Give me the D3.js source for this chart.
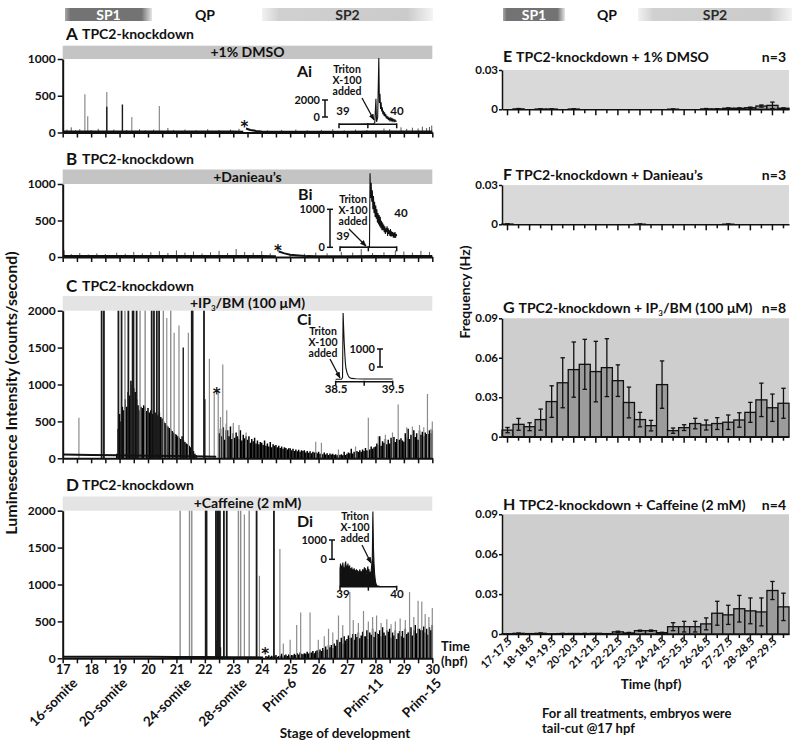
<!DOCTYPE html>
<html><head><meta charset="utf-8">
<script src="https://cdn.jsdelivr.net/npm/d3@7"></script>
<style>
body{margin:0;background:#fff}
svg{display:block}
text{font-family:Lato,'Open Sans',sans-serif;font-weight:bold;fill:#111}
</style>
</head><body>
<svg id="c" width="800" height="749"></svg>
<script>
// ---------------- DATA ----------------
const phases = ["SP1", "QP", "SP2"];
const hourTicks = d3.range(17, 30.001, 0.5);
const stageLabels = ["16-somite", "20-somite", "24-somite", "28-somite", "Prim-6", "Prim-11", "Prim-15"];
const stageHours = [17.55, 19.3, 21.55, 23.5, 25.25, 28.3, 30.35];

// Panel A (TPC2-knockdown + 1% DMSO) luminescence trace [hpf, counts/s]
const aBase1 = [[17,12],[18,14],[19,12],[20,13],[21,12],[22,12],[23,12],[23.35,10]];
const aBase2 = [[23.45,55],[23.6,35],[23.8,22],[24.0,15],[25,10],[26,10],[27,10],[28,12],[29,14],[30,15]];
const aSmall = [[17.15,40],[17.3,70],[17.45,30],[17.6,45],[18.0,35],[18.25,50],[18.8,40],[19.25,35],[19.7,45],[19.9,30],[20.2,40],[20.7,60],[20.9,35],[21.3,40],[21.7,30],[22.1,45],[22.5,35],[22.9,40],[23.2,50],[24.2,30],[24.7,35],[25.2,40],[25.6,30],[26.1,35],[26.5,45],[26.9,30],[27.3,40],[27.7,35],[28.3,55],[28.5,45],[28.9,70],[29.1,50],[29.3,65],[29.5,55],[29.65,80],[29.8,60],[29.9,75],[29.98,95]];
const aGrey = [[17.78,520],[17.88,220],[18.55,550],[19.43,210],[20.4,360]];
const aDark = [[18.55,350],[19.1,380]];
const aInset = [[39.0,0],[39.3,0],[39.6,50],[39.62,200],[39.64,3000],[39.65,300],[39.67,800],[39.69,7800],[39.70,2500],[39.71,3600],[39.72,1800],[39.73,2600],[39.74,1500],[39.75,2000],[39.76,1200],[39.77,1600],[39.78,1000],[39.79,1400],[39.8,900],[39.81,1200],[39.82,700],[39.83,1000],[39.84,600],[39.85,900],[39.86,500],[39.87,800],[39.88,500],[39.89,700],[39.9,450],[39.91,650],[39.92,400],[39.93,600],[39.94,400],[39.95,550],[39.96,350],[39.97,500],[39.98,350],[40.0,400]];

// Panel B (TPC2-knockdown + Danieau's)
const bBase1 = [[17,12],[18,12],[19,12],[20,12],[21,12],[22,12],[23,12],[24,12],[24.5,11]];
const bBase2 = [[24.6,75],[24.8,50],[25.0,30],[25.3,20],[25.6,12],[26,11],[27,11],[28,12],[29,12],[30,12]];
const bSmall = [[17.05,90],[17.3,40],[17.6,55],[17.9,35],[18.2,50],[18.5,40],[18.9,60],[19.2,45],[19.5,70],[19.8,50],[20.1,65],[20.4,80],[20.7,55],[21.0,90],[21.3,60],[21.6,75],[21.9,50],[22.2,65],[22.5,85],[22.8,55],[23.1,110],[23.4,70],[23.7,60],[24.0,80],[24.3,50],[25.0,40],[25.5,45],[25.9,60],[26.3,50],[26.8,70],[27.2,60],[27.5,110],[27.9,55],[28.3,65],[28.7,90],[29.0,75],[29.3,60],[29.6,85],[29.9,70]];
const bInset = [[39,0],[39.52,0],[39.53,1950],[39.54,1300],[39.55,1700],[39.56,1200],[39.57,1500],[39.58,1000],[39.59,1350],[39.6,900],[39.61,1200],[39.62,800],[39.63,1100],[39.64,750],[39.65,1000],[39.66,650],[39.67,900],[39.68,600],[39.69,850],[39.7,550],[39.71,800],[39.72,500],[39.73,700],[39.74,450],[39.75,650],[39.76,450],[39.77,600],[39.78,400],[39.79,550],[39.8,350],[39.81,500],[39.82,400],[39.83,550],[39.84,300],[39.85,500],[39.86,350],[39.87,450],[39.88,300],[39.89,480],[39.9,280],[39.91,420],[39.92,300],[39.93,400],[39.94,250],[39.95,380],[39.96,250],[39.97,400],[39.98,250],[39.99,350],[40.0,300]];

// Panel C (TPC2-knockdown + IP3/BM)
const cBase1 = [[17,50],[18,45],[19,40],[20,35],[21,30],[22,25],[22.4,20]];
const cTallDark = [18.37,18.45,18.96,19.07,19.31,19.46,19.49,19.6,20.13,20.21,20.31,20.39,21.54,21.57,21.97];
const cTallGrey = [19.19,19.72,19.9,20.54,20.8];
const cDark = [[21.24,1500],[22.0,800]];
const cGrey = [[17.57,550],[20.66,1900],[20.92,1700],[21.09,1800],[21.42,1700],[22.16,1350],[22.33,900],[22.47,900],[22.63,1270],[22.77,650],[22.55,560],[22.75,470],[23.0,480],[23.2,450],[23.45,350],[25.9,225],[26.1,210],[26.7,120],[27.3,160],[27.75,550],[28.1,300],[28.35,320],[28.6,350],[28.8,730],[29.1,420],[29.3,430],[29.55,450],[29.7,420],[29.83,870],[29.95,400],[30,500]];
const cComb1Start = 18.9, cComb1Step = 0.05;
const cComb1 = [60,400,600,500,700,650,800,700,900,850,1050,1000,950,900,800,720,650,700,680,720,700,640,680,620,650,600,650,620,600,580,620,560,540,500,480,450,430,410,390,370,350,330,320,300,280,260,300,240,220,200,190,170,150,300,100,60,40];
const cComb2Start = 22.5, cComb2Step = 0.05;
const cComb2 = [340,400,300,420,250,380,380,300,430,260,
  340,280,350,300,260,380,240,320,270,300,
  250,300,210,260,230,280,200,240,190,220,
  210,180,240,170,200,160,220,150,190,170,
  180,150,170,140,160,130,150,140,120,135,
  135,110,130,100,120,95,115,90,110,100,
  110,80,100,75,95,70,90,80,85,70,
  90,60,60,55,80,50,70,45,65,50,
  60,45,55,40,50,45,55,40,90,45,
  60,80,70,130,65,90,75,100,85,110,
  90,120,100,140,110,100,120,160,130,150,
  160,200,180,300,170,230,210,260,190,250,
  200,280,240,290,220,260,250,250,270,240,
  225,340,280,400,260,320,300,380,290,340,
  250,380,320,360,300,350,330,330,380,340,
  380];
const cInset = [[38.5,0],[38.6,0],[38.62,100],[38.63,3680],[38.64,2800],[38.65,2000],[38.66,1400],[38.67,900],[38.68,600],[38.7,350],[38.72,200],[38.74,100],[38.78,50],[38.85,30],[39.0,20],[39.2,20],[39.5,20]];

// Panel D (TPC2-knockdown + Caffeine)
const dBase1 = [[17,20],[18,22],[19,22],[20,20],[21,18],[22,18],[23,15],[24.05,12]];
const dTallGrey = [21.13,21.46,21.54,23.18,23.26,23.56];
const dTallDark = [22.03,22.06,22.39,22.44,22.48,22.53,22.67,22.77,23.82,24.43];
const dGrey = [[23.39,1950],[23.92,1120],[24.64,1480],[24.76,200],[25.0,250],[25.23,450],[25.37,620],[25.7,620],[25.99,250],[26.2,300],[26.35,400],[26.5,350],[26.7,580],[26.85,450],[27.1,900],[27.22,520],[27.4,480],[27.58,640],[27.75,500],[27.9,560],[28.04,580],[28.2,480],[28.4,530],[28.55,460],[28.7,500],[28.87,540],[29.05,520],[29.2,900],[29.35,560],[29.5,780],[29.63,770],[29.75,600],[29.88,560],[30,680]];
const dDark = [[22.42,250],[22.45,200],[22.5,230],[22.55,150]];
const dCombStart = 24.15, dCombStep = 0.05;
const dComb = [30,25,40,20,35,25,30,45,20,30,
  35,60,25,40,50,30,50,35,45,40,
  60,45,70,50,80,60,55,70,60,90,
  65,80,80,100,70,95,110,85,120,100,
  140,110,160,120,180,150,180,140,200,170,
  250,220,220,280,200,300,240,260,310,280,
  280,330,250,330,290,350,270,310,360,300,
  300,380,260,350,320,400,290,360,340,330,
  380,300,420,350,310,380,360,400,280,350,
  310,380,260,340,370,300,370,280,400,330,
  350,360,420,310,380,450,340,400,400,380,
  380,430,350,400,320,420,380,450];
const dInset = [[39,0],[39.0,900],[39.01,1200],[39.02,700],[39.03,1100],[39.04,800],[39.05,1250],[39.06,900],[39.07,1000],[39.08,700],[39.09,1150],[39.1,1300],[39.11,800],[39.12,1100],[39.13,900],[39.14,1200],[39.15,750],[39.16,1000],[39.17,1100],[39.18,700],[39.19,950],[39.2,850],[39.21,1000],[39.22,650],[39.23,900],[39.24,800],[39.25,950],[39.26,700],[39.27,850],[39.28,600],[39.29,900],[39.3,750],[39.31,850],[39.32,600],[39.33,800],[39.34,700],[39.35,900],[39.36,650],[39.37,800],[39.38,600],[39.39,750],[39.4,900],[39.41,650],[39.42,800],[39.43,1000],[39.44,700],[39.45,950],[39.46,600],[39.47,850],[39.48,700],[39.49,1050],[39.5,800],[39.51,900],[39.52,600],[39.53,700],[39.55,800],[39.57,1500],[39.58,3900],[39.59,2000],[39.6,1200],[39.61,700],[39.62,400],[39.63,200],[39.65,50],[39.7,20],[40,10]];

// Star (tail-cut artefact) positions [hpf, counts]
const stars = {A:[23.39,100], B:[24.57,110], C:[22.42,900], D:[24.12,90]};

// Frequency bar charts (Hz), 26 half-hour bins
const binLabels = ["17-17.5","17.5-18","18-18.5","18.5-19","19-19.5","19.5-20","20-20.5","20.5-21","21-21.5","21.5-22","22-22.5","22.5-23","23-23.5","23.5-24","24-24.5","24.5-25","25-25.5","25.5-26","26-26.5","26.5-27","27-27.5","27.5-28","28-28.5","28.5-29","29-29.5","29.5-30"];
const eMean = [0,0.0003,0,0.0002,0.0002,0,0.0002,0,0,0,0,0,0,0,0,0.0001,0,0,0.0003,0.0003,0.0008,0.0008,0.0012,0.0025,0.003,0.0008];
const eErr  = [0,0.0003,0,0.0001,0.0001,0,0.0001,0,0,0,0,0,0,0,0,0.0001,0,0,0.0003,0.0002,0.0003,0.0003,0.0005,0.0008,0.0025,0.0003];
const fMean = [0.0002,0,0,0,0,0,0,0,0,0,0,0,0.0001,0,0,0,0,0,0,0,0.0001,0,0,0,0,0];
const fErr  = [0.0001,0,0,0,0,0,0,0,0,0,0,0,0.0001,0,0,0,0,0,0,0,0.0001,0,0,0,0,0];
const gMean = [0.005,0.0094,0.0076,0.013,0.0267,0.041,0.051,0.055,0.0495,0.0525,0.0426,0.026,0.013,0.0084,0.0396,0.0046,0.0069,0.010,0.0089,0.010,0.011,0.0127,0.0185,0.028,0.022,0.0254];
const gErr  = [0.002,0.0045,0.003,0.008,0.012,0.019,0.021,0.019,0.023,0.022,0.012,0.0117,0.0055,0.004,0.018,0.002,0.0022,0.004,0.0038,0.0045,0.0055,0.0055,0.0076,0.0127,0.0104,0.0114];
const hMean = [0.0002,0.0005,0.0003,0.0005,0.0002,0.0003,0.0004,0.0003,0.0005,0.0003,0.0016,0.0008,0.0025,0.0025,0.001,0.0055,0.0055,0.0055,0.0076,0.0156,0.0144,0.019,0.0174,0.0166,0.0327,0.0204];
const hErr  = [0,0.0002,0,0.0003,0,0.0002,0,0.0002,0,0,0.0005,0.0004,0.0004,0.0005,0.0003,0.003,0.004,0.004,0.0045,0.009,0.0072,0.01,0.0097,0.0105,0.0068,0.0103];

// ---------------- DRAWING ----------------
const svg = d3.select("#c");
const defs = svg.append("defs");
const FONT = "Lato,'Open Sans',sans-serif";

function grad(id, stops) {
  const g = defs.append("linearGradient").attr("id", id);
  stops.forEach(s => g.append("stop").attr("offset", s[0]).attr("stop-color", s[1]));
}
grad("gsp1", [["0%","#a8a8a8"],["6%","#737373"],["88%","#737373"],["100%","#e6e6e6"]]);
grad("gsp2", [["0%","#f2f2f2"],["10%","#d0d0d0"],["85%","#cbcbcb"],["100%","#f4f4f4"]]);
defs.append("marker").attr("id","arr").attr("viewBox","0 0 10 10").attr("refX",9).attr("refY",5)
  .attr("markerWidth",5).attr("markerHeight",5).attr("orient","auto")
  .append("path").attr("d","M0,1L10,5L0,9z").attr("fill","#111");

function header(x1, x2, xq, x3, x4) {
  svg.append("rect").attr("x",x1).attr("y",8).attr("width",x2-x1).attr("height",13).attr("fill","url(#gsp1)");
  svg.append("text").attr("x",(x1+x2)/2).attr("y",19.5).attr("text-anchor","middle").style("font-size","14px").style("fill","#fff").text(phases[0]);
  svg.append("text").attr("x",xq).attr("y",19.5).attr("text-anchor","middle").style("font-size","14px").text(phases[1]);
  svg.append("rect").attr("x",x3).attr("y",8).attr("width",x4-x3).attr("height",13).attr("fill","url(#gsp2)");
  svg.append("text").attr("x",(x3+x4)/2).attr("y",19.5).attr("text-anchor","middle").style("font-size","14px").style("fill","#2a2a2a").text(phases[2]);
}
header(65, 152, 205, 262, 433);
header(503, 565, 607, 638, 792);

const X0 = 62.7, X1 = 432.3;
const hx = d3.scaleLinear().domain([17, 30]).range([X0, X1]);

function styleAxis(g, fs) {
  g.selectAll("text").attr("font-family", FONT).style("font-size", fs).style("font-weight","bold").attr("fill","#111");
  g.selectAll("line").attr("stroke","#111").attr("stroke-width",1.5);
  g.select(".domain").attr("stroke","#111").attr("stroke-width",2);
}

function condText(sel, cond) {
  cond.forEach(c => {
    const t = sel.append("tspan").text(c.t);
    if (c.sub) t.style("font-size","8px").attr("dy", 3);
    if (c.after) t.attr("dy", -3);
  });
}

let clipN = 0;
function tracePanel(p) {
  const y = d3.scaleLinear().domain([0, p.ymax]).range([p.y0, p.yTop]);
  svg.append("rect").attr("x",X0).attr("y",p.barY).attr("width",X1-X0).attr("height",p.yTop-p.barY).attr("fill",p.barFill);
  const ct = svg.append("text").attr("x",(X0+X1)/2).attr("y",p.yTop-2.5).attr("text-anchor","middle").style("font-size","14px");
  condText(ct, p.cond);
  svg.append("text").attr("x",66).attr("y",p.titleY).style("font-size","17px").text(p.letter);
  svg.append("text").attr("x",82).attr("y",p.titleY-1).style("font-size","14px").text("TPC2-knockdown");

  const cid = "clip" + (clipN++);
  defs.append("clipPath").attr("id",cid).append("rect").attr("x",X0).attr("y",p.yTop).attr("width",X1-X0+2).attr("height",p.y0-p.yTop+1);
  const g = svg.append("g").attr("clip-path",`url(#${cid})`);

  const spikes = (data, color, w) => g.append("g").selectAll("line").data(data).join("line")
    .attr("x1",d=>hx(d[0])).attr("x2",d=>hx(d[0])).attr("y1",y(0)).attr("y2",d=>y(d[1]))
    .attr("stroke",color).attr("stroke-width",w);
  const comb = (start, step, vals, color, w) => spikes(vals.map((v,i)=>[start+i*step, v]), color, w);
  const line = d3.line().x(d=>hx(d[0])).y(d=>y(d[1]));

  (p.combs||[]).forEach(c => comb(c[0], c[1], c[2], "#000", 1.5));
  if (p.small) spikes(p.small, "#555", 1);
  if (p.grey) spikes(p.grey, "#8c8c8c", 1.2);
  if (p.tallGrey) spikes(p.tallGrey.map(t=>[t, p.ymax*1.1]), "#8c8c8c", 1.4);
  if (p.dark) spikes(p.dark, "#1a1a1a", 1.4);
  if (p.tallDark) spikes(p.tallDark.map(t=>[t, p.ymax*1.1]), "#1a1a1a", 1.8);
  (p.bases||[]).forEach(b => g.append("path").datum(b).attr("d",line).attr("fill","none").attr("stroke","#111").attr("stroke-width",2));

  const st = stars[p.letter];
  svg.append("text").attr("x",hx(st[0])).attr("y",y(st[1])+7).attr("text-anchor","middle")
    .attr("font-family","'DejaVu Sans',sans-serif").style("font-family","'DejaVu Sans',sans-serif").style("font-size","15px").text("*");

  const ya = svg.append("g").attr("transform",`translate(${X0},0)`)
    .call(d3.axisLeft(y).tickValues(p.ticks).tickSize(5).tickPadding(2).tickSizeOuter(0).tickFormat(d3.format("d")));
  styleAxis(ya, "12px");
  const xa = svg.append("g").attr("transform",`translate(0,${p.y0})`)
    .call(d3.axisBottom(hx).tickValues(hourTicks).tickSize(5).tickPadding(2).tickSizeOuter(0)
      .tickFormat(d => p.xLabels && Number.isInteger(d) ? d : ""));
  styleAxis(xa, "12.5px");
  return y;
}

function inset(o) {
  const xs = d3.scaleLinear().domain(o.xd).range(o.xr);
  const ys = d3.scaleLinear().domain([0, o.unit]).range([o.base, o.base - o.unitPx]);
  if (o.fill) svg.append("path").datum(o.data).attr("d", d3.area().x(d=>xs(d[0])).y0(o.base).y1(d=>ys(d[1]))).attr("fill","#111");
  svg.append("path").datum(o.data).attr("d", d3.line().x(d=>xs(d[0])).y(d=>ys(d[1]))).attr("fill","none").attr("stroke","#111").attr("stroke-width",1.1);
  // axis
  svg.append("line").attr("x1",o.xr[0]).attr("x2",o.xr[1]).attr("y1",o.axisY).attr("y2",o.axisY).attr("stroke","#111").attr("stroke-width",1.5);
  [o.xd[0], (o.xd[0]+o.xd[1])/2, o.xd[1]].forEach(t => svg.append("line").attr("x1",xs(t)).attr("x2",xs(t)).attr("y1",o.axisY-1).attr("y2",o.axisY+4).attr("stroke","#111").attr("stroke-width",1.5));
  o.xl.forEach(l => svg.append("text").attr("x",l[0]).attr("y",l[1]).attr("text-anchor","middle").style("font-size","11.5px").text(l[2]));
  // scale bar
  svg.append("line").attr("x1",o.sb[0]).attr("x2",o.sb[0]).attr("y1",o.sb[1]).attr("y2",o.sb[2]).attr("stroke","#111").attr("stroke-width",1.5);
  [o.sb[1], o.sb[2]].forEach(yy => svg.append("line").attr("x1",o.sb[0]-3).attr("x2",o.sb[0]+3).attr("y1",yy).attr("y2",yy).attr("stroke","#111").attr("stroke-width",1.5));
  svg.append("text").attr("x",o.sb[0]-5).attr("y",o.sb[1]+3.5).attr("text-anchor","end").style("font-size","11px").text(o.unit);
  svg.append("text").attr("x",o.sb[0]-5).attr("y",o.sb[2]+3.5).attr("text-anchor","end").style("font-size","11px").text("0");
  svg.append("text").attr("x",o.name[0]).attr("y",o.name[1]).style("font-size","16px").text(o.name[2]);
  ["Triton","X-100","added"].forEach((s,i) => svg.append("text").attr("x",o.tri[0]).attr("y",o.tri[1]+i*11).attr("text-anchor","middle").style("font-size","10.5px").text(s));
  svg.append("line").attr("x1",o.arr[0]).attr("y1",o.arr[1]).attr("x2",o.arr[2]).attr("y2",o.arr[3]).attr("stroke","#111").attr("stroke-width",1.3).attr("marker-end","url(#arr)");
}

// A
tracePanel({letter:"A", cond:[{t:"+1% DMSO"}], barFill:"#c4c4c4", barY:45.7, yTop:59, y0:132.5, ymax:1000, ticks:[0,500,1000], titleY:40,
  bases:[aBase1,aBase2], small:aSmall, grey:aGrey, dark:aDark});
inset({data:aInset, xd:[39,40], xr:[339,396.7], base:124.3, unit:2000, unitPx:17, axisY:124.3,
  xl:[[343,115,"39"],[397,115,"40"]], sb:[325,100,117], name:[297,77,"Ai"], tri:[347,73], arr:[362,98,374,120]});

// B
tracePanel({letter:"B", cond:[{t:"+Danieau\u2019s"}], barFill:"#c4c4c4", barY:169.5, yTop:184, y0:257, ymax:1000, ticks:[0,500,1000], titleY:165,
  bases:[bBase1,bBase2], small:bSmall});
inset({data:bInset, xd:[39,40], xr:[340,396.7], base:247.3, unit:1000, unitPx:38, axisY:247.3,
  xl:[[343,240,"39"],[401,217,"40"]], sb:[330,209.3,247.3], name:[298,200,"Bi"], tri:[353,203], arr:[349,229,366,246]});

// C
tracePanel({letter:"C", cond:[{t:"+IP"},{t:"3",sub:true},{t:"/BM (100 \u03bcM)",after:true}], barFill:"#e4e4e4", barY:296, yTop:310.7, y0:458.3, ymax:2000, ticks:[0,500,1000,1500,2000], titleY:291.5,
  combs:[[cComb1Start,cComb1Step,cComb1],[cComb2Start,cComb2Step,cComb2]], bases:[cBase1], grey:cGrey, tallGrey:cTallGrey, dark:cDark, tallDark:cTallDark});
inset({data:cInset, xd:[38.5,39.5], xr:[335.7,392.7], base:379.3, unit:1000, unitPx:18, axisY:381.7,
  xl:[[336,393,"38.5"],[393,393,"39.5"]], sb:[380,349,367], name:[297,325,"Ci"], tri:[323,335], arr:[330,359,340,378]});

// D
tracePanel({letter:"D", cond:[{t:"+Caffeine (2 mM)"}], barFill:"#e4e4e4", barY:496.5, yTop:510.7, y0:658.3, ymax:2000, ticks:[0,500,1000,1500,2000], titleY:491, xLabels:true,
  combs:[[dCombStart,dCombStep,dComb]], bases:[dBase1], grey:dGrey, tallGrey:dTallGrey, dark:dDark, tallDark:dTallDark});
inset({data:dInset, fill:true, xd:[39,40], xr:[340,396.7], base:586.7, unit:1000, unitPx:19.3, axisY:586.7,
  xl:[[343,598,"39"],[397,598,"40"]], sb:[332,540,559.3], name:[297,527,"Di"], tri:[355,520], arr:[362,545,371,563]});

// left axis texts
svg.append("text").attr("transform","translate(17,393) rotate(-90)").attr("text-anchor","middle").style("font-size","16px").text("Luminescence Intensity  (counts/second)");
svg.append("text").attr("x",441).attr("y",651).style("font-size","13px").text("Time");
svg.append("text").attr("x",441).attr("y",666).style("font-size","13px").text("(hpf)");
stageLabels.forEach((s,i) => svg.append("text").attr("transform",`translate(${hx(stageHours[i])},684) rotate(-45)`).attr("text-anchor","end").style("font-size","13.5px").text(s));
svg.append("text").attr("x",345).attr("y",738).attr("text-anchor","middle").style("font-size","13.5px").text("Stage of development");

// ---------------- RIGHT BAR PANELS ----------------
const RX0 = 502, RX1 = 789;
const band = d3.scaleBand().domain(binLabels).range([RX0, RX1]).padding(0);

function barPanel(p) {
  const y = d3.scaleLinear().domain([0, p.ymax]).range([p.y0, p.yTop]);
  svg.append("rect").attr("x",RX0).attr("y",p.yTop).attr("width",RX1-RX0).attr("height",p.y0-p.yTop).attr("fill",p.bg);
  const t = svg.append("text").attr("x",503).attr("y",p.titleY);
  t.append("tspan").style("font-size","16px").text(p.letter + " ");
  const tt = t.append("tspan").style("font-size","14px");
  condText(tt, p.cond);
  svg.append("text").attr("x",786).attr("y",p.titleY).attr("text-anchor","end").style("font-size","14px").text(p.n);
  const data = binLabels.map((b,i) => ({b, m:p.mean[i], e:p.err[i]})).filter(d => d.m > 0);
  svg.append("g").selectAll("rect").data(data).join("rect")
    .attr("x",d=>band(d.b)).attr("width",band.bandwidth()).attr("y",d=>y(d.m)).attr("height",d=>y(0)-y(d.m))
    .attr("fill","#9c9c9c").attr("stroke","#111").attr("stroke-width",1.3);
  const eg = svg.append("g").attr("stroke","#111").attr("stroke-width",1.3);
  data.filter(d=>d.e>0).forEach(d => {
    const cx = band(d.b) + band.bandwidth()/2;
    eg.append("line").attr("x1",cx).attr("x2",cx).attr("y1",y(Math.max(0,d.m-d.e))).attr("y2",y(d.m+d.e));
    eg.append("line").attr("x1",cx-2.2).attr("x2",cx+2.2).attr("y1",y(d.m+d.e)).attr("y2",y(d.m+d.e));
    eg.append("line").attr("x1",cx-2.2).attr("x2",cx+2.2).attr("y1",y(Math.max(0,d.m-d.e))).attr("y2",y(Math.max(0,d.m-d.e)));
  });
  const ya = svg.append("g").attr("transform",`translate(${RX0},0)`)
    .call(d3.axisLeft(y).tickValues(p.ticks).tickSize(3).tickPadding(1).tickSizeOuter(0).tickFormat(d => d===0 ? "0" : d3.format(".2f")(d)));
  styleAxis(ya, "11.5px");
  ya.select(".domain").attr("stroke-width",1.5);
  const xa = svg.append("g").attr("transform",`translate(0,${p.y0})`)
    .call(d3.axisBottom(band).tickSize(5).tickSizeOuter(0).tickFormat(""));
  styleAxis(xa, "11px");
  xa.select(".domain").attr("stroke-width",1.5);
  xa.selectAll(".tick line").attr("y2",(d,i)=> i%2===0 ? 6 : 4);
  if (p.labels) {
    binLabels.forEach((b,i) => { if (i%2===0) svg.append("text")
      .attr("transform",`translate(${band(b)+band.bandwidth()/2+5},${p.y0+8}) rotate(-45)`)
      .attr("text-anchor","end").style("font-size","11px").text(b); });
  }
}

barPanel({letter:"E", cond:[{t:"TPC2-knockdown + 1% DMSO"}], n:"n=3", bg:"#d9d9d9", ymax:0.03, ticks:[0,0.03], yTop:70, y0:109.3, titleY:61.5, mean:eMean, err:eErr});
barPanel({letter:"F", cond:[{t:"TPC2-knockdown + Danieau\u2019s"}], n:"n=3", bg:"#d9d9d9", ymax:0.03, ticks:[0,0.03], yTop:185, y0:224.3, titleY:180, mean:fMean, err:fErr});
barPanel({letter:"G", cond:[{t:"TPC2-knockdown + IP"},{t:"3",sub:true},{t:"/BM (100 \u03bcM)",after:true}], n:"n=8", bg:"#cecece", ymax:0.09, ticks:[0,0.03,0.06,0.09], yTop:318.3, y0:436.7, titleY:313, mean:gMean, err:gErr});
barPanel({letter:"H", cond:[{t:"TPC2-knockdown + Caffeine (2 mM)"}], n:"n=4", bg:"#cecece", ymax:0.09, ticks:[0,0.03,0.06,0.09], yTop:514.3, y0:634, titleY:510, mean:hMean, err:hErr, labels:true});

svg.append("text").attr("transform","translate(470,292) rotate(-90)").attr("text-anchor","middle").style("font-size","14px").text("Frequency (Hz)");
svg.append("text").attr("x",651).attr("y",689).attr("text-anchor","middle").style("font-size","13.5px").text("Time (hpf)");
svg.append("text").attr("x",542).attr("y",718).style("font-size","13px").text("For all treatments, embryos were");
svg.append("text").attr("x",542).attr("y",733).style("font-size","13px").text("tail-cut @17 hpf");
</script>
</body></html>
